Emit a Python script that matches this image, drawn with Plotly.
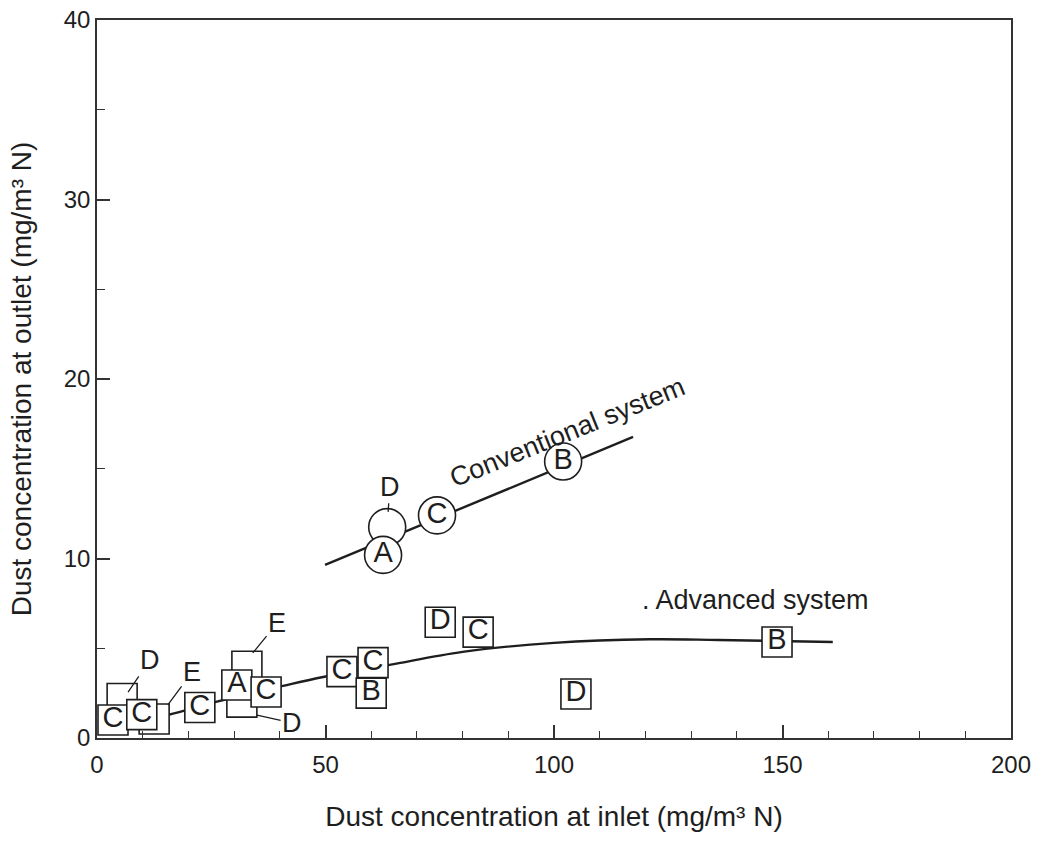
import plotly.graph_objects as go

# ---- data -------------------------------------------------------------
# Conventional system: measured points (circles)
conv_x = [63.5, 62.6, 74.4, 102.0]
conv_y = [11.75, 10.2, 12.4, 15.4]
conv_text = ["", "A", "C", "B"]

# Conventional system: fitted trend line
conv_fit_x = [49.9, 117.3]
conv_fit_y = [9.64, 16.77]

# Advanced system: measured points (squares), listed back to front
adv_x = [5.5, 12.5, 3.5, 9.8, 22.5, 32.8, 31.7, 30.6, 37.0, 53.6, 60.4, 60.0, 75.1, 83.4, 104.8, 148.8]
adv_y = [2.2, 1.06, 1.0, 1.3, 1.7, 4.0, 2.0, 2.95, 2.56, 3.7, 4.2, 2.5, 6.45, 5.9, 2.45, 5.35]
adv_text = ["", "", "C", "C", "C", "", "", "A", "C", "C", "C", "B", "D", "C", "D", "B"]

# Advanced system: fitted trend curve
adv_fit_x = [3.0, 15.5, 25.8, 40.7, 49.5, 64.0, 80.0, 100.0, 121.0, 136.0, 161.0]
adv_fit_y = [0.7, 1.28, 2.0, 2.9, 3.4, 4.07, 4.8, 5.3, 5.5, 5.46, 5.35]

# Call-out letters for points hidden behind others
callout_text = ["D", "E", "E", "D", "D"]
callout_x = [6.8, 15.5, 34.1, 35.0, 63.7]     # leader end at the marker
callout_y = [2.56, 1.84, 4.74, 1.28, 12.6]
callout_lx = [11.6, 20.8, 39.4, 42.7, 64.1]   # letter position
callout_ly = [4.35, 3.68, 6.4, 0.84, 14.0]

x_ticks = [0, 50, 100, 150, 200]
y_ticks = [0, 10, 20, 30, 40]

# ---- styling ----------------------------------------------------------
INK = "#1e1e1e"
FONT = "Liberation Sans, Arial, sans-serif"
LETTER = dict(family=FONT, size=29, color=INK)
CALLOUT = dict(family=FONT, size=27, color=INK)

fig = go.Figure()

fig.add_trace(go.Scatter(x=conv_fit_x, y=conv_fit_y, mode="lines",
                         line=dict(color=INK, width=2.4), hoverinfo="skip"))
fig.add_trace(go.Scatter(x=adv_fit_x, y=adv_fit_y, mode="lines",
                         line=dict(color=INK, width=2.4, shape="spline", smoothing=1.0),
                         hoverinfo="skip"))

# one trace per marker so that later boxes sit on top of earlier ones
for xv, yv, t in zip(adv_x, adv_y, adv_text):
    fig.add_trace(go.Scatter(
        x=[xv], y=[yv], mode="markers+text", text=[t], textposition="middle center",
        textfont=LETTER,
        marker=dict(symbol="square", size=30, color="white", line=dict(color=INK, width=1.6)),
        hoverinfo="skip"))

for xv, yv, t in zip(conv_x, conv_y, conv_text):
    fig.add_trace(go.Scatter(
        x=[xv], y=[yv], mode="markers+text", text=[t], textposition="middle center",
        textfont=LETTER,
        marker=dict(symbol="circle", size=37, color="white", line=dict(color=INK, width=1.6)),
        hoverinfo="skip"))

annotations = []
for t, ax_, ay_, lx, ly in zip(callout_text, callout_x, callout_y, callout_lx, callout_ly):
    annotations.append(dict(
        x=ax_, y=ay_, xref="x", yref="y", ax=lx, ay=ly, axref="x", ayref="y",
        text=t, font=CALLOUT, showarrow=True, arrowhead=0, arrowwidth=1.3,
        arrowcolor=INK, standoff=0, startstandoff=0))

annotations.append(dict(
    x=103, y=17.05, xref="x", yref="y", text="Conventional system", showarrow=False,
    textangle=-22, font=dict(family=FONT, size=27, color=INK)))
annotations.append(dict(
    x=144.2, y=7.7, xref="x", yref="y", text=". Advanced system", showarrow=False,
    font=dict(family=FONT, size=27, color=INK)))

axis_common = dict(
    showgrid=False, zeroline=False, showline=True, mirror=True, automargin=False,
    linecolor="#333", linewidth=1.6, ticks="inside", tickcolor="#333",
    tickwidth=1.5, ticklen=13, tickfont=dict(family=FONT, size=24, color=INK),
)

fig.update_layout(
    width=1040, height=846,
    margin=dict(l=97, r=29, t=20, b=108),
    paper_bgcolor="white", plot_bgcolor="white",
    showlegend=False,
    annotations=annotations,
    xaxis=dict(
        range=[0, 200], tickvals=x_ticks, ticklabelstandoff=4,
        minor=dict(dtick=10, ticks="inside", ticklen=7, tickcolor="#333", tickwidth=1.3),
        title=dict(text="Dust concentration at inlet (mg/m³ N)",
                   font=dict(family=FONT, size=28, color=INK), standoff=30),
        **axis_common),
    yaxis=dict(
        range=[0, 40], tickvals=y_ticks,
        minor=dict(dtick=5, ticks="inside", ticklen=8, tickcolor="#333", tickwidth=1.3),
        title=dict(text="Dust concentration at outlet (mg/m³ N)",
                   font=dict(family=FONT, size=28, color=INK), standoff=24),
        **axis_common),
)

fig.write_html("out.html")
